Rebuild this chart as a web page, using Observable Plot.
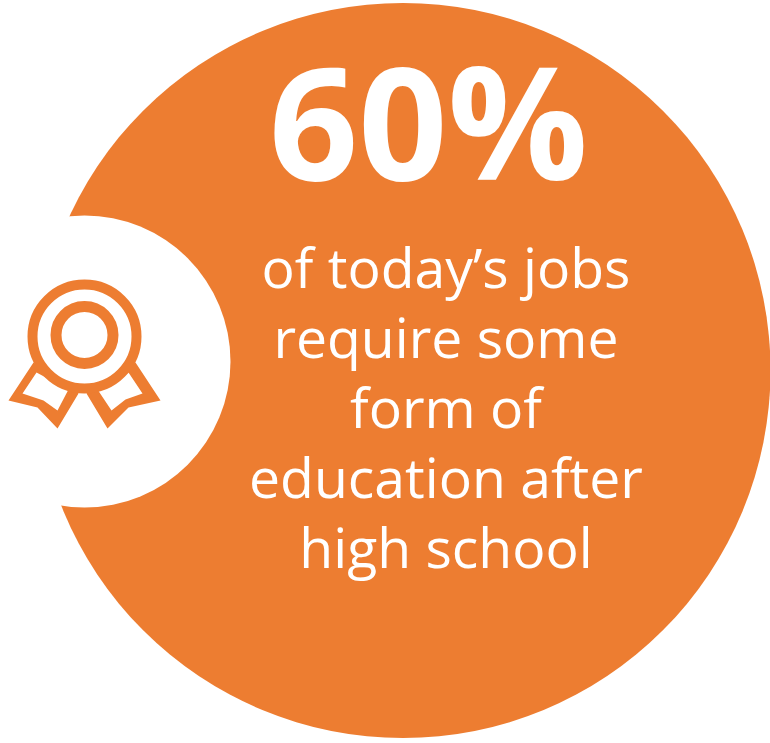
<!DOCTYPE html>
<html><head><meta charset="utf-8">
<script src="https://cdn.jsdelivr.net/npm/d3@7"></script>
<script src="https://cdn.jsdelivr.net/npm/@observablehq/plot@0.6"></script>
<style>html,body{margin:0;padding:0;background:#fff}svg{display:block}</style>
</head><body><div id="c"></div>
<script>
const disc = [{x:402.5, y:370, r:367.5}];
const notch = [{x:84, y:361, r:146}];
const headline = [{x:428, y:130, t:"60%"}];
const lines = ["of today’s jobs","require some","form of","education after","high school"];
const lineY = [270,340,410,480,550];
const body = lines.map((t,i)=>({t,x:445.5,y:lineY[i]}));
const rings = [{x:84,y:336,r:52,w:10},{x:84,y:334.5,r:28.5,w:11}];
const ribbonOuter = [
 [[33,362],[8,400],[37,407],[57,428],[78,393]],
 [[135,362],[160,400],[128,407],[107,428],[86,393]]
];
const ribbonInner = [
 [[36,372],[22,393],[43,400],[57,410],[68,389]],
 [[128,372],[142,393],[125,399],[111,410],[97,389]]
];
const toRows = polys => polys.flatMap((p,i)=>p.map(([x,y])=>({x,y,i})));
const plot = Plot.plot({
  width:770,height:743,margin:0,
  x:{domain:[0,770],axis:null},y:{domain:[743,0],axis:null},
  r:{type:"identity"},
  marks:[
    Plot.dot(disc,{x:"x",y:"y",r:"r",fill:"#ED7D31"}),
    Plot.dot(notch,{x:"x",y:"y",r:"r",fill:"#fff"}),
    Plot.line(toRows(ribbonOuter),{x:"x",y:"y",z:"i",stroke:"none",fill:"#ED7D31",curve:"linear-closed"}),
    Plot.line(toRows(ribbonInner),{x:"x",y:"y",z:"i",stroke:"none",fill:"#fff",curve:"linear-closed"}),
    Plot.dot(rings,{x:"x",y:"y",r:"r",stroke:"#ED7D31",strokeWidth:"w",fill:"#fff"}),
    Plot.text(headline,{x:"x",y:"y",text:"t",fill:"#fff",fontSize:156,fontWeight:"bold",fontFamily:"'Open Sans'"}),
    Plot.text(body,{x:"x",y:"y",text:"t",fill:"#fff",fontSize:55.3,fontFamily:"'Open Sans'"})
  ]
});
document.getElementById("c").append(plot);
</script></body></html>
